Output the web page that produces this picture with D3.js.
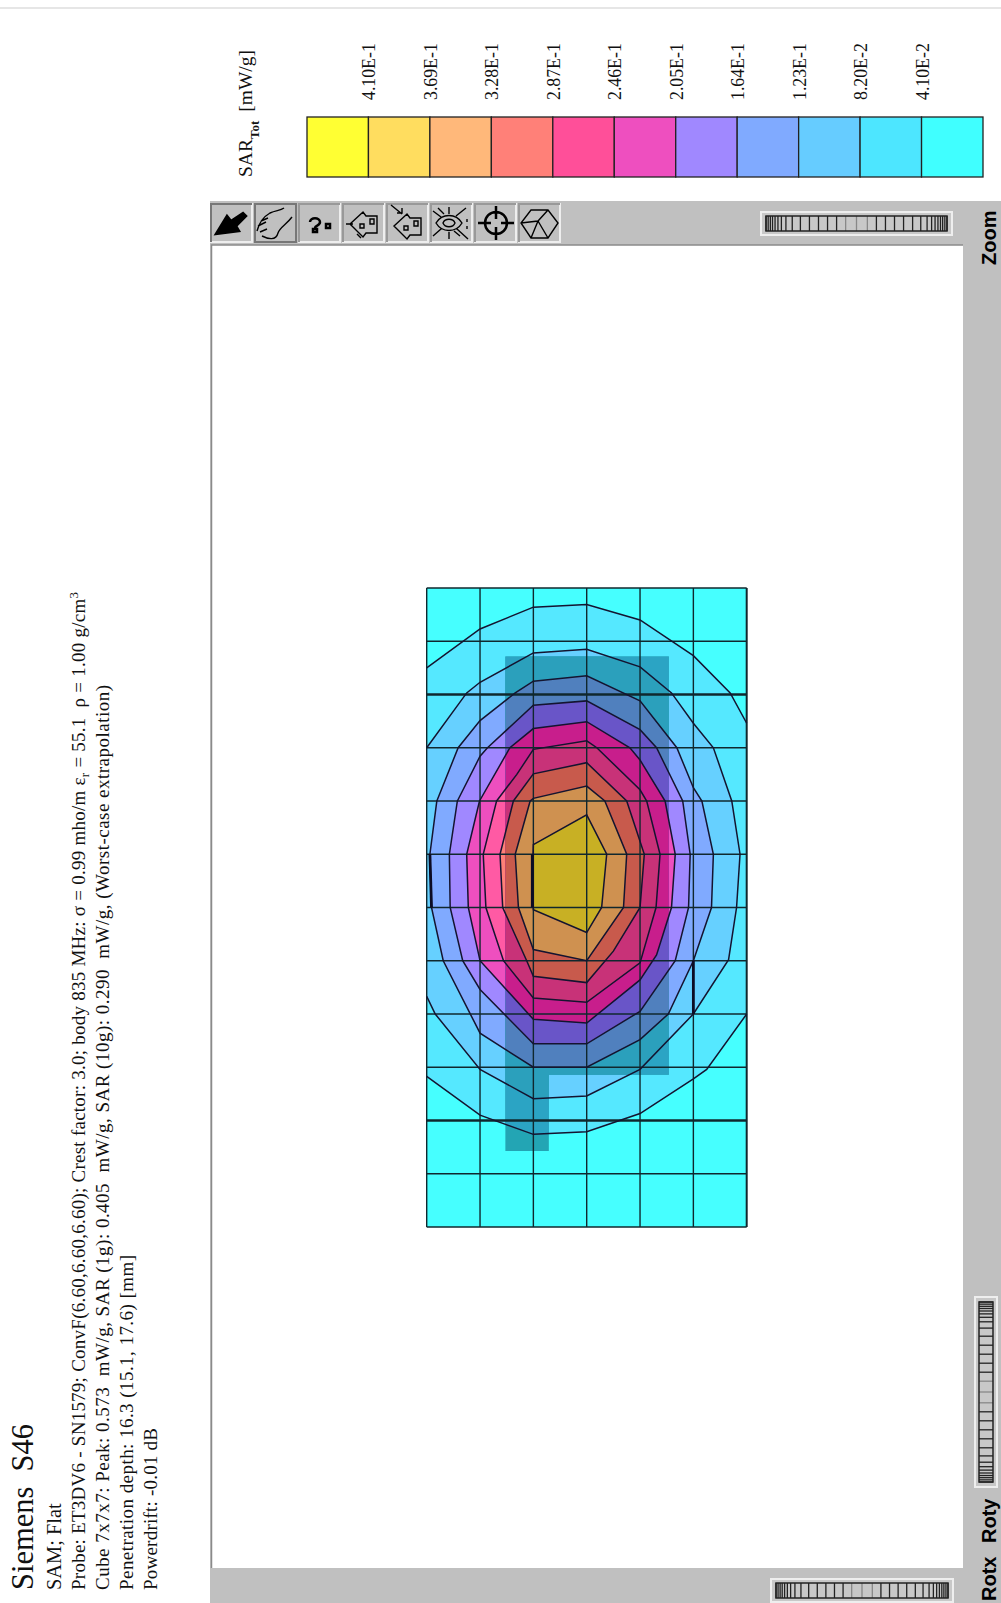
<!DOCTYPE html>
<html>
<head>
<meta charset="utf-8">
<script src="https://cdn.jsdelivr.net/npm/d3@7"></script>
<style>
  html, body { margin: 0; padding: 0; background: #fff; overflow: hidden; }
  svg { display: block; }
  text { font-family: "Liberation Serif", serif; fill: #111; white-space: pre; }
  .ui { font-family: "Liberation Sans", sans-serif; fill: #000; }
</style>
</head>
<body>
<script>
// legend, from the top of the scale down
const legendLabels = ["4.10E-1", "3.69E-1", "3.28E-1", "2.87E-1", "2.46E-1", "2.05E-1", "1.64E-1", "1.23E-1", "8.20E-2", "4.10E-2"];
const legendColors = ["#ffff33", "#ffdd5f", "#ffb87a", "#ff8078", "#ff4f99", "#ee4fbf", "#a088ff", "#80aaff", "#66ccff", "#4de6ff", "#40ffff"];

// grid size of the scan, in cells
const gridCols = 6;
const gridRows = 12;

// contour lines, outermost first, as [column, row]
const contour1 = [[0,1.5],[1,.77],[2,.36],[3,.31],[4,.6],[5,1.27],[5.69,1.97],[6,2.54],[6,8],[5.25,9.04],[5,9.22],[4,9.87],[3,10.21],[2,10.26],[1,9.9],[0,9.17]];
const contour2 = [[0,3],[.75,1.97],[1,1.77],[2,1.22],[3,1.15],[4,1.48],[4.59,1.97],[5,2.54],[5.375,3],[5.72,4],[5.875,5],[5.81,6],[5.66,6.98],[5,8],[4,9.04],[3,9.54],[2,9.59],[1,9.04],[.16,8],[0,7.67]];
const contour3 = [[.19,4],[.59,3],[1,2.49],[1.66,1.97],[2,1.75],[3,1.65],[4,2.12],[4.69,3],[5,3.75],[5.16,4],[5.375,5],[5.34,6],[5,7],[4.53,8],[4,8.48],[3,9],[2,9],[1,8.36],[.31,7],[.09,6],[.06,5]];
const contour4 = [[.575,4],[1,3.16],[1.14,3],[2,2.2],[3,2.12],[4,2.66],[4.31,3],[4.8,4],[4.94,5],[4.91,6],[4.66,7],[4,7.95],[3,8.56],[2,8.56],[1,7.54],[.675,7],[.44,6],[.425,5]];
const contour5 = [[.99,4],[1.56,3],[2,2.64],[3,2.51],[3.81,3],[4,3.23],[4.47,4],[4.66,5],[4.59,6],[4.31,6.89],[4,7.36],[3,8.17],[2,8.1],[1,7],[.78,6],[.75,5]];
const contour6 = [[1.31,4],[1.69,3.5],[2,3.03],[3,2.87],[3.19,3],[4,3.79],[4.125,4],[4.375,5],[4.3,6],[4,7.04],[3,7.78],[2,7.7],[1.44,7],[1.11,6],[1.06,5]];
const contour7 = [[1.625,4],[2,3.49],[3,3.28],[3.75,4],[4.08,5],[4,6],[3.5,6.82],[3,7.41],[2,7.29],[1.875,7],[1.425,6],[1.375,5]];
const contour8 = [[1.66,5],[1.94,4],[2,3.95],[3,3.72],[3.34,4],[3.75,5],[3.69,6],[3,7],[2,6.79],[1.72,6]];
const contour9 = [[2,4.82],[3,4.26],[3.375,5],[3.28,6],[3,6.47],[2,6.04],[1.98,5.5]];
const contours = [contour1, contour2, contour3, contour4, contour5, contour6, contour7, contour8, contour9];

// band colours outside the zoom scan and inside it, outermost band first
const backgroundColor = "#46ffff";
const bandColors = ["#55e8ff", "#66d0ff", "#80aaff", "#a088ff", "#ee4fbf", "#ff5aa4", "#ff8078", "#ffb87a", "#ffff33"];
const zoomBackground = "#23a5b4";
const zoomColors = ["#2ba4c4", "#2ba0bc", "#5080be", "#6955c8", "#c81e8c", "#c83278", "#c85a4c", "#cf9150", "#c8b024"];

// area of the zoom scan
const zoomArea = [[1.475,1.285],[4.54,1.285],[4.54,9.14],[2.29,9.14],[2.29,10.575],[1.475,10.575]];

// heavier pieces of the grid
const thickRows = [2, 10];
const thickSegments = [[[5,7],[5,8]], [[.06,5],[.09,6]], [[1.98,5],[1.98,6]]];

const width = 1001;
const height = 1603;

const svg = d3.select("body").append("svg")
    .attr("width", width)
    .attr("height", height);

// thin line along the top of the page
svg.append("rect").attr("x", 0).attr("y", 7).attr("width", width).attr("height", 2).attr("fill", "#e6e6e6");

// window chrome
svg.append("rect").attr("x", 210).attr("y", 201).attr("width", 791).attr("height", 1402).attr("fill", "#c0c0c0");
svg.append("rect").attr("x", 211).attr("y", 245).attr("width", 752).attr("height", 1323).attr("fill", "#fff");
svg.append("path").attr("d", "M211.5,1568V245H963").attr("fill", "none").attr("stroke", "#8a8a8a").attr("stroke-width", 1.5);

// header text, turned on its side
function sideText(x, y, size) {
    return svg.append("text")
        .attr("transform", `translate(${x},${y}) rotate(-90)`)
        .attr("font-size", size);
}

sideText(33, 1590, 30.5).text("Siemens  S46");
sideText(61, 1590, 20.4).text("SAM; Flat");

let probe = sideText(85, 1590, 19).attr("textLength", 998);
probe.append("tspan").text("Probe: ET3DV6 - SN1579; ConvF(6.60,6.60,6.60); Crest factor: 3.0; body 835 MHz: σ = 0.99 mho/m ε");
probe.append("tspan").attr("dy", 4).attr("font-size", 13).text("r");
probe.append("tspan").attr("dy", -4).text(" = 55.1  ρ = 1.00 g/cm");
probe.append("tspan").attr("dy", -7).attr("font-size", 13).text("3");

sideText(109, 1590, 19).attr("textLength", 905)
    .text("Cube 7x7x7: Peak: 0.573  mW/g, SAR (1g): 0.405  mW/g, SAR (10g): 0.290  mW/g, (Worst-case extrapolation)");
sideText(133, 1590, 19).attr("textLength", 335).text("Penetration depth: 16.3 (15.1, 17.6) [mm]");
sideText(157, 1590, 19).attr("textLength", 162).text("Powerdrift: -0.01 dB");

// legend
const legendX = d3.scaleBand()
    .domain(d3.range(legendColors.length))
    .range([307, 983]);

svg.selectAll(".cell")
    .data(legendColors)
    .enter()
    .append("rect")
    .attr("class", "cell")
    .attr("x", (d, i) => legendX(i))
    .attr("y", 117)
    .attr("width", legendX.bandwidth())
    .attr("height", 60)
    .attr("fill", d => d)
    .attr("stroke", "#222")
    .attr("stroke-width", 1.3);

svg.selectAll(".cellLabel")
    .data(legendLabels)
    .enter()
    .append("text")
    .attr("class", "cellLabel")
    .attr("transform", (d, i) => `translate(${legendX(i) + legendX.bandwidth() + 7},100) rotate(-90)`)
    .attr("font-size", 17.8)
    .text(d => d);

let sar = sideText(252, 177, 19.5);
sar.append("tspan").text("SAR");
sar.append("tspan").attr("dy", 7).attr("font-size", 13).attr("font-weight", "bold").text("Tot");
sar.append("tspan").attr("dy", -7).attr("dx", 9).text("[mW/g]");

// toolbar buttons
const buttonEdges = [210, 254, 298, 342, 386, 430, 474, 518];
const buttonIcons = [
    "M6,31L17,13L21,18L33,10L36,13L26,23L29,28Z",
    "M3,28C5,20 9,14 16,10C22,7 26,8 30,5M7,18L14,15M4,23L12,19M6,29L13,26M8,33C14,36 22,38 24,30C26,24 32,22 38,14",
    "M12,19C12,14 22,14 22,19C22,23 17,22 17,25M28,21h4v4h-4zM15,26h4v3h-4z",
    "M8,21L21,9L24,13H35V30H24L21,34ZM18,21h4v4h-4zM28,16v5h4v-5zM4,21h7M15,31l4,4",
    "M8,23L21,11L24,15H35V32H24L21,36ZM18,23h4v4h-4zM28,18v5h4v-5zM5,2L16,11M11,10H16V5",
    "M6,20C12,10 26,10 32,20C26,30 12,30 6,20ZM13,20C15,15 23,15 25,20C23,25 15,25 13,20ZM3,8L11,14M36,5L26,13M3,33L11,26M38,36L27,26M19,4V11M19,29V36M37,16v3M37,23v3M8,5L14,11M30,33L24,28",
    "M11,20A11,11,0,1,1,33,20A11,11,0,1,1,11,20ZM22,3v13M22,24v13M4,20h13M27,20h13",
    "M13,7H30L40,20L30,35H13L3,20ZM3,20L20,18L30,7M20,18L30,35M20,18L13,35"
];
const buttons = svg.selectAll(".button")
    .data(buttonEdges)
    .enter()
    .append("g")
    .attr("class", "button")
    .attr("transform", d => `translate(${d},203)`);
buttons.append("rect")
    .attr("x", 1).attr("y", 1).attr("width", 41).attr("height", 38)
    .attr("fill", "#c0c0c0")
    .attr("stroke", (d, i) => i == 1 ? "#777" : "#eee")
    .attr("stroke-width", 2);
buttons.append("path")
    .attr("d", "M1,39V1H42")
    .attr("fill", "none")
    .attr("stroke", (d, i) => i < 2 ? "#777" : "#999")
    .attr("stroke-width", 2);
buttons.append("path")
    .attr("d", (d, i) => buttonIcons[i])
    .attr("fill", (d, i) => i == 0 ? "#000" : "none")
    .attr("stroke", "#000")
    .attr("stroke-width", (d, i) => i == 0 || i == 2 || i == 6 ? 2.5 : 1.4);

// sliders: darker and closer together toward the ends
const sliderStripes = [0, .012, .024, .036, .05, .066, .085, .11, .145, .19, .24, .29, .34, .39, .44, .5, .56, .61, .66, .71, .76, .81, .855, .89, .915, .934, .95, .964, .976, .988, 1];
function slider(x, y, w, h, vertical) {
    let g = svg.append("g").attr("transform", vertical ? `translate(${x},${y + w}) rotate(-90)` : `translate(${x},${y})`);
    g.append("rect").attr("width", w).attr("height", h).attr("fill", "#c8c8c8").attr("stroke", "#eee").attr("stroke-width", 2);
    g.selectAll("line")
        .data(sliderStripes)
        .enter()
        .append("line")
        .attr("x1", d => 5 + d * (w - 10))
        .attr("x2", d => 5 + d * (w - 10))
        .attr("y1", 4)
        .attr("y2", h - 4)
        .attr("stroke", d => d > .4 && d < .6 ? "#888" : "#222")
        .attr("stroke-width", 1.3);
    g.append("rect").attr("x", 5).attr("y", 4).attr("width", w - 10).attr("height", h - 8)
        .attr("fill", "none").attr("stroke", "#222").attr("stroke-width", 1.5);
}
slider(761, 212, 191, 23, false);
slider(771, 1579, 182, 23, false);
slider(975, 1297, 190, 22, true);

function uiText(x, y, label, weight) {
    svg.append("text").attr("class", "ui")
        .attr("transform", `translate(${x},${y}) rotate(-90)`)
        .attr("font-size", 20)
        .attr("font-weight", weight)
        .text(label);
}
uiText(996, 265, "Zoom", "bold");
uiText(996, 1543, "Roty", "bold");
uiText(996, 1601, "Rotx", "bold");

// scan plot
const x = d3.scaleLinear().domain([0, gridCols]).range([426.7, 746.7]);
const y = d3.scaleLinear().domain([0, gridRows]).range([588, 1227]);

let plot = svg.append("g").attr("class", "plot");
const line = d3.line().x(d => x(d[0])).y(d => y(d[1]));

function gridRect(parent) {
    return parent.append("rect")
        .attr("x", x(0)).attr("y", y(0))
        .attr("width", x(gridCols) - x(0))
        .attr("height", y(gridRows) - y(0));
}

gridRect(svg.append("clipPath").attr("id", "gridClip"));
svg.append("clipPath").attr("id", "zoomClip")
    .append("path")
    .datum(zoomArea)
    .attr("d", d => line(d) + "Z");

gridRect(plot).attr("fill", backgroundColor);

// filled bands, then the same bands in their darker colours inside the zoom scan
plot.append("g").attr("clip-path", "url(#gridClip)")
    .selectAll("path")
    .data(contours)
    .enter()
    .append("path")
    .attr("d", d => line(d) + "Z")
    .attr("fill", (d, i) => bandColors[i]);

let zoomGroup = plot.append("g").attr("clip-path", "url(#zoomClip)");
gridRect(zoomGroup).attr("fill", zoomBackground);
zoomGroup.selectAll("path")
    .data(contours)
    .enter()
    .append("path")
    .attr("d", d => line(d) + "Z")
    .attr("fill", (d, i) => zoomColors[i]);

// grid over the fill
plot.selectAll(".rowLine")
    .data(d3.range(gridRows + 1))
    .enter()
    .append("line")
    .attr("class", "rowLine")
    .attr("x1", x(0)).attr("x2", x(gridCols))
    .attr("y1", d => y(d)).attr("y2", d => y(d))
    .attr("stroke", "#10282e")
    .attr("stroke-width", d => thickRows.includes(d) ? 2.6 : 1.4);

plot.selectAll(".colLine")
    .data(d3.range(gridCols + 1))
    .enter()
    .append("line")
    .attr("class", "colLine")
    .attr("x1", d => x(d)).attr("x2", d => x(d))
    .attr("y1", y(0)).attr("y2", y(gridRows))
    .attr("stroke", "#10282e")
    .attr("stroke-width", d => d == gridCols ? 2 : 1.4);

// contour outlines; the outer two run off the grid and stay open there
const outlines = [contour1.slice(0, 8), contour1.slice(8), contour2]
    .map(d => line(d))
    .concat(contours.slice(2).map(d => line(d) + "Z"));

plot.selectAll(".contour")
    .data(outlines)
    .enter()
    .append("path")
    .attr("class", "contour")
    .attr("d", d => d)
    .attr("fill", "none")
    .attr("stroke", "#141430")
    .attr("stroke-width", 1.5);

plot.selectAll(".thick")
    .data(thickSegments)
    .enter()
    .append("path")
    .attr("class", "thick")
    .attr("d", line)
    .attr("fill", "none")
    .attr("stroke", "#0c0c24")
    .attr("stroke-width", 2.8);
</script>
</body>
</html>
